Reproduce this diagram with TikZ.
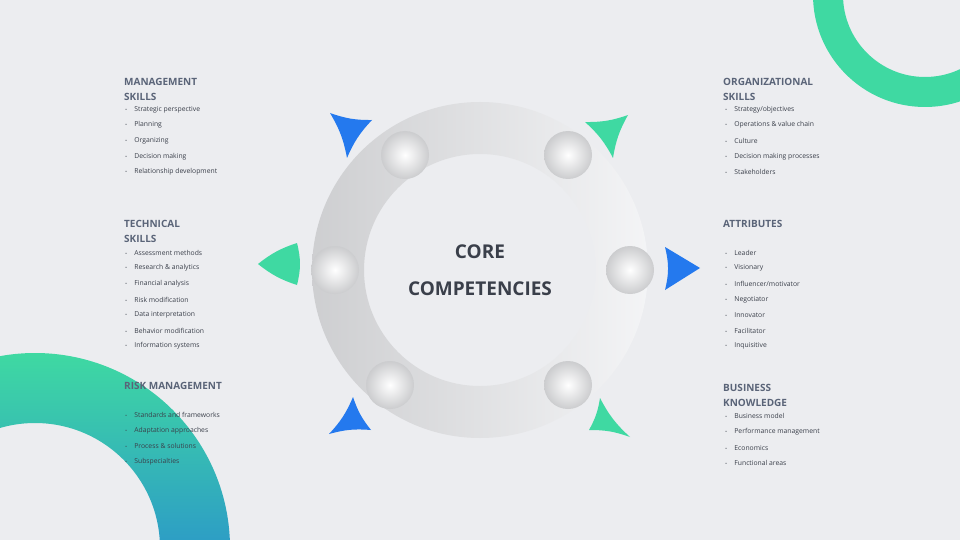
\documentclass[tikz,border=0pt]{standalone}
\usepackage{fontspec}
\setmainfont{Open Sans}
\definecolor{bg}{HTML}{ECEDF0}
\definecolor{head}{HTML}{5A6478}
\definecolor{txt}{HTML}{3A3F4A}
\definecolor{teal}{HTML}{3FD9A2}
\definecolor{blu}{HTML}{2479EE}
\definecolor{gblue}{HTML}{1A5FEA}
\begin{document}
\begin{tikzpicture}[x=1pt,y=-1pt,
 hd/.style={anchor=north west,inner sep=0,text=head,font=\fontsize{10}{15}\selectfont\bfseries,align=left},
 it/.style={anchor=west,inner sep=0,text=txt,font=\fontsize{6.8}{8}\selectfont},
 ball/.style={circle,minimum size=48pt,inner sep=0,inner color=white,outer color=gray!30!bg}]
\useasboundingbox (0,0) rectangle (960,540);
\fill[bg] (0,0) rectangle (960,540);
% decorative arcs
\begin{scope}
\clip (0,0) rectangle (960,540);
\fill[teal,even odd rule] (925,-5) circle (112) (925,-5) circle (82);
\shade[top color=teal,bottom color=gblue,even odd rule] (35,548) circle (195) (35,548) circle (125);
\end{scope}
% ring
\shade[left color=gray!28!bg,right color=bg!60!white,even odd rule] (480,270) circle (168) (480,270) circle (116);
% balls
\node[ball] (b1) at (405,155) {};
\node[ball] (b2) at (568,155) {};
\node[ball] (b3) at (335,270) {};
\node[ball] (b4) at (630,270) {};
\node[ball] (b5) at (390,385) {};
\node[ball] (b6) at (568,385) {};
% triangles (concave sides)
\fill[blu] (330,113) to[bend right=10] (372,120) to[bend right=10] (347,158) to[bend right=10] cycle;
\fill[teal] (628,115) to[bend right=10] (613,158) to[bend right=10] (585,122) to[bend right=10] cycle;
\fill[teal] (258,264) to[bend right=10] (297,285) to[bend right=14] (297,243) to[bend right=10] cycle;
\fill[blu] (665,247) -- (700,268) -- (665,290) to[bend right=14] cycle;
\fill[blu] (353,397) to[bend left=10] (329,434) to[bend left=10] (371,430) to[bend left=10] cycle;
\fill[teal] (600,398) to[bend right=10] (630,437) to[bend right=10] (589,430) to[bend right=10] cycle;
% center
\node[text=txt,font=\fontsize{19}{37}\selectfont\bfseries,align=center] (core) at (480,270) {CORE\\COMPETENCIES};
% left column
\node[hd] (h1) at (124,78) {MANAGEMENT\\SKILLS};
\foreach \y/\t [count=\i] in {110/Strategic perspective,125/Planning,141/Organizing,157/Decision making,172/Relationship development}
 {\node[it] (m\i) at (125,\y) {-\hspace{7pt}\t};}
\node[hd] (h2) at (124,220) {TECHNICAL\\SKILLS};
\foreach \y/\t [count=\i] in {253/Assessment methods,268/Research \& analytics,284/Financial analysis,300/Risk modification,315/Data interpretation,331/Behavior modification,346/Information systems}
 {\node[it] (t\i) at (125,\y) {-\hspace{7pt}\t};}
\node[hd] (h3) at (124,382) {RISK MANAGEMENT};
\foreach \y/\t [count=\i] in {415/Standards and frameworks,431/Adaptation approaches,446/Process \& solutions,462/Subspecialties}
 {\node[it] (r\i) at (125,\y) {-\hspace{7pt}\t};}
% right column
\node[hd] (h4) at (723,78) {ORGANIZATIONAL\\SKILLS};
\foreach \y/\t [count=\i] in {110/{Strategy/objectives},125/Operations \& value chain,141/Culture,157/Decision making processes,172/Stakeholders}
 {\node[it] (o\i) at (725,\y) {-\hspace{7pt}\t};}
\node[hd] (h5) at (723,220) {ATTRIBUTES};
\foreach \y/\t [count=\i] in {253/Leader,268/Visionary,284/{Influencer/motivator},300/Negotiator,315/Innovator,331/Facilitator,346/Inquisitive}
 {\node[it] (a\i) at (725,\y) {-\hspace{7pt}\t};}
\node[hd] (h6) at (723,384) {BUSINESS\\KNOWLEDGE};
\foreach \y/\t [count=\i] in {416/Business model,432/Performance management,448/Economics,463/Functional areas}
 {\node[it] (k\i) at (725,\y) {-\hspace{7pt}\t};}
\end{tikzpicture}
\end{document}
